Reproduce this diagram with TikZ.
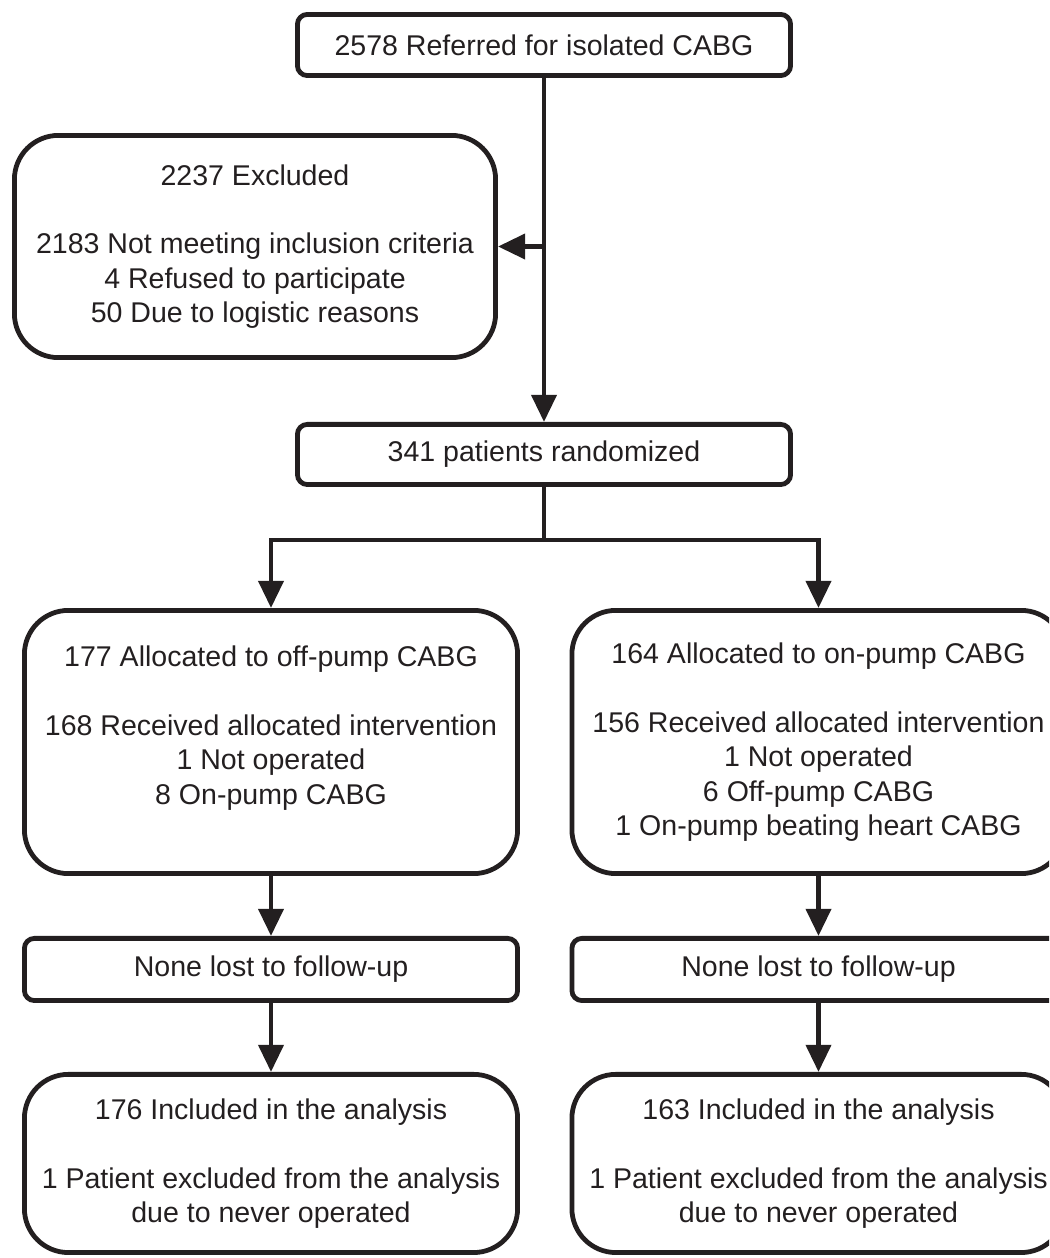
\documentclass[tikz,border=0pt]{standalone}
\usepackage{fontspec}
\setmainfont{Liberation Sans}
\usetikzlibrary{arrows.meta, positioning, calc}
\definecolor{inkgray}{RGB}{35, 31, 32}

\begin{document}
\begin{tikzpicture}[
    flatbox/.style={rectangle, rounded corners=0.25cm, draw=inkgray, line width=3.4pt, minimum width=12.33cm, align=center, text=inkgray, font=\fontsize{20.3pt}{24.5pt}\selectfont},
    roundbox/.style={flatbox, rounded corners=1.1cm},
    arrow/.style={draw=inkgray, line width=3.4pt, -{Triangle[length=0.68cm, width=0.62cm]}}
]
\clip (0,0) rectangle (26.225,-31.45);

% Enrollment
\node[flatbox, minimum height=1.53cm, anchor=north] (referred) at (13.6,-0.3) {2578 Referred for isolated CABG};
\node[roundbox, minimum width=12.03cm, minimum height=5.555cm] (excluded) at (6.375,-6.1625) {2237 Excluded\\[24.5pt]2183 Not meeting inclusion criteria\\4 Refused to participate\\50 Due to logistic reasons};
\node[flatbox, minimum height=1.505cm, below=8.6cm of referred] (randomized) {341 patients randomized};

% Allocation
\node[roundbox, minimum height=6.58cm, anchor=north] (offpump) at (6.775,-15.2) {177 Allocated to off-pump CABG\\[24.5pt]168 Received allocated intervention\\1 Not operated\\8 On-pump CABG\\\mbox{}};
\node[roundbox, minimum height=6.58cm, anchor=north] (onpump) at (20.4625,-15.2) {164 Allocated to on-pump CABG\\[24.5pt]156 Received allocated intervention\\1 Not operated\\6 Off-pump CABG\\1 On-pump beating heart CABG};

% Follow-up
\node[flatbox, minimum height=1.555cm, below=1.5cm of offpump] (lostoff) {None lost to follow-up};
\node[flatbox, minimum height=1.555cm, below=1.5cm of onpump] (loston) {None lost to follow-up};

% Analysis
\node[roundbox, minimum height=4.455cm, below=1.725cm of lostoff] (analysisoff) {176 Included in the analysis\\[24.5pt]1 Patient excluded from the analysis\\due to never operated};
\node[roundbox, minimum height=4.455cm, below=1.725cm of loston] (analysison) {163 Included in the analysis\\[24.5pt]1 Patient excluded from the analysis\\due to never operated};

% Arrows
\draw[arrow] (referred) -- (randomized);
\draw[arrow] (referred.south |- excluded.east) -- (excluded.east);
\draw[arrow] (randomized.south) -- ++(0,-1.325) -| (offpump.north);
\draw[arrow] (randomized.south) -- ++(0,-1.325) -| (onpump.north);
\draw[arrow] (offpump) -- (lostoff);
\draw[arrow] (onpump) -- (loston);
\draw[arrow] (lostoff) -- (analysisoff);
\draw[arrow] (loston) -- (analysison);

\end{tikzpicture}
\end{document}
